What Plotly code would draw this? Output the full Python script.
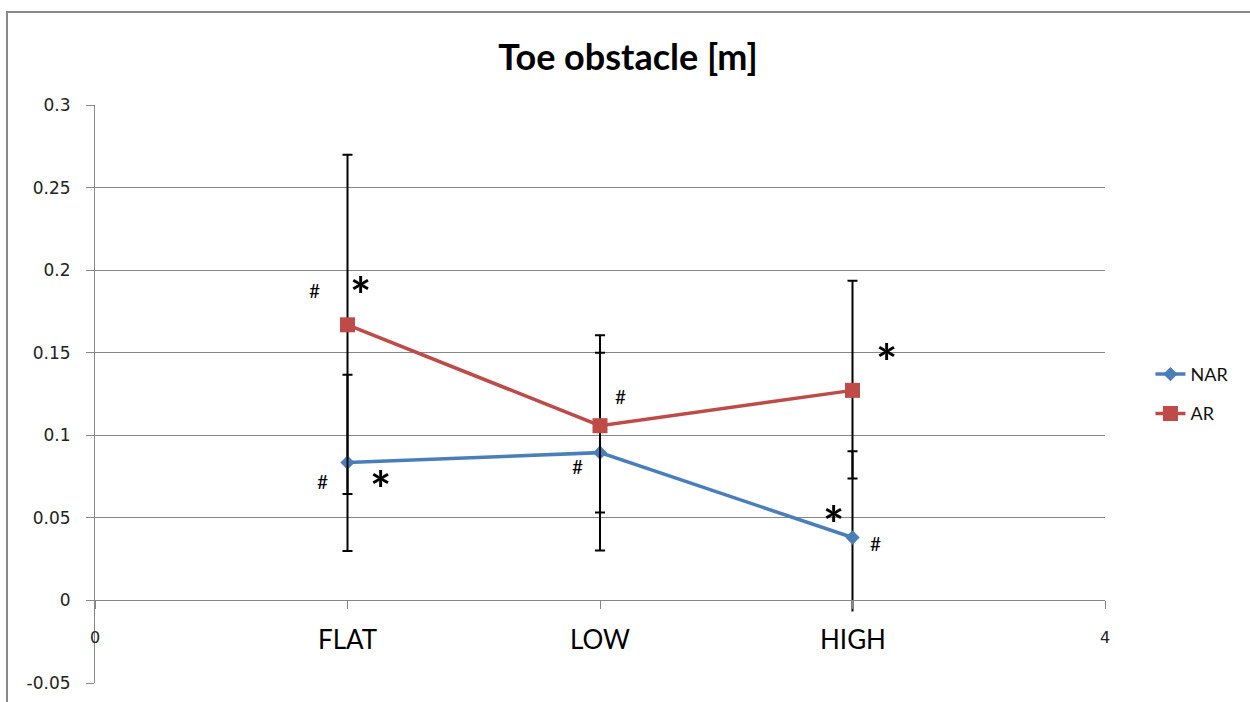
import plotly.graph_objects as go

# Conditions along the x axis (plotted at x = 1, 2, 3 on a 0..4 scale)
CATEGORIES = ["FLAT", "LOW", "HIGH"]
X_POS = [1, 2, 3]

# Mean toe obstacle clearance [m] and the ends of each error bar
NAR_MEAN = [0.0835, 0.0895, 0.0381]
NAR_UPPER = [0.1367, 0.1500, 0.0903]
NAR_LOWER = [0.0299, 0.0302, -0.0067]

AR_MEAN = [0.1669, 0.1058, 0.1272]
AR_UPPER = [0.2698, 0.1605, 0.1936]
AR_LOWER = [0.0644, 0.0532, 0.0738]

# Lower NAR bars drawn without an end cap (index into the lists above)
NAR_UNCAPPED = [2]

# Y axis ticks
Y_TICKS = [-0.05, 0, 0.05, 0.1, 0.15, 0.2, 0.25, 0.3]
Y_TICK_TEXT = ["-0.05", "0", "0.05", "0.1", "0.15", "0.2", "0.25", "0.3"]

# Significance marks: (symbol, x, y) in data units
SIG_MARKS = [
    ("#", 0.871, 0.1875),
    ("*", 1.050, 0.1923),
    ("#", 0.899, 0.0720),
    ("*", 1.129, 0.0750),
    ("#", 2.083, 0.1234),
    ("#", 1.909, 0.0810),
    ("*", 3.133, 0.1518),
    ("*", 2.923, 0.0538),
    ("#", 3.093, 0.0345),
]

NAR_COLOR = "#4A7EBB"
AR_COLOR = "#BE4B48"
GRID = "#878787"


def err(plus, minus, width=5):
    return dict(type="data", symmetric=False, array=plus, arrayminus=minus,
                color="black", thickness=2, width=width)


nar_plus = [u - m for m, u in zip(NAR_MEAN, NAR_UPPER)]
nar_minus = [m - l for m, l in zip(NAR_MEAN, NAR_LOWER)]
ar_plus = [u - m for m, u in zip(AR_MEAN, AR_UPPER)]
ar_minus = [m - l for m, l in zip(AR_MEAN, AR_LOWER)]

nar_minus_capped = [0 if i in NAR_UNCAPPED else v for i, v in enumerate(nar_minus)]

fig = go.Figure()

# Cap-less lower NAR bars
fig.add_trace(go.Scatter(
    x=[X_POS[i] for i in NAR_UNCAPPED],
    y=[NAR_MEAN[i] for i in NAR_UNCAPPED],
    mode="markers", marker=dict(size=1, color="rgba(0,0,0,0)"),
    error_y=err([0] * len(NAR_UNCAPPED), [nar_minus[i] for i in NAR_UNCAPPED], width=0),
    showlegend=False, hoverinfo="skip",
))

fig.add_trace(go.Scatter(
    x=X_POS, y=NAR_MEAN, name="NAR", mode="lines+markers",
    line=dict(color=NAR_COLOR, width=3.5),
    marker=dict(symbol="diamond", size=11, color=NAR_COLOR),
    error_y=err(nar_plus, nar_minus_capped),
    legendgroup="nar",
))
fig.add_trace(go.Scatter(
    x=X_POS, y=AR_MEAN, name="AR", mode="lines+markers",
    line=dict(color=AR_COLOR, width=3.5),
    marker=dict(symbol="square", size=15, color=AR_COLOR),
    error_y=err(ar_plus, ar_minus),
    legendgroup="ar",
))

y_min, y_max = -0.05, 0.3
zero_pos = (0 - y_min) / (y_max - y_min)

fig.update_layout(
    width=1250, height=702,
    margin=dict(l=95, r=145, t=105, b=19, autoexpand=False),
    paper_bgcolor="white", plot_bgcolor="white",
    showlegend=True,
    legend=dict(
        x=1.045, y=0.566, xanchor="left", yanchor="top",
        font=dict(family="Lato", size=18, color="#111"),
        tracegroupgap=13, bgcolor="rgba(0,0,0,0)",
    ),
    title=dict(
        text="<b>Toe obstacle [m]</b>",
        x=628 / 1250, xref="container", xanchor="center",
        y=1 - 57 / 702, yref="container", yanchor="middle",
        font=dict(family="Lato", size=36, color="black"),
    ),
    xaxis=dict(
        range=[0, 4], tickvals=[0, 1, 2, 3, 4],
        ticktext=["0", "", "", "", "4"],
        showgrid=False, zeroline=False,
        showline=True, linecolor=GRID, linewidth=1,
        ticks="outside", ticklen=8, tickcolor=GRID, tickwidth=1,
        anchor="free", position=zero_pos, automargin=False,
        ticklabelstandoff=14,
        tickfont=dict(family="DejaVu Sans", size=16, color="#222"),
    ),
    yaxis=dict(
        range=[y_min, y_max], tickvals=Y_TICKS, ticktext=Y_TICK_TEXT,
        showgrid=True, gridcolor=GRID, gridwidth=1,
        zeroline=False, showline=True, linecolor=GRID, linewidth=1,
        ticks="outside", ticklen=8, tickcolor=GRID, tickwidth=1,
        ticklabelstandoff=12, automargin=False,
        tickfont=dict(family="DejaVu Sans", size=17, color="#222"),
    ),
)

# Outer chart frame
fig.add_shape(type="rect", xref="paper", yref="paper",
              x0=(7 - 95) / 1010, x1=1.3, y0=-0.3, y1=(683 - 12) / 578,
              line=dict(color="#898989", width=2), fillcolor="rgba(0,0,0,0)",
              layer="below")

# Category names under the zero line
for xc, name in zip(X_POS, CATEGORIES):
    fig.add_annotation(x=xc, y=-0.0236, xref="x", yref="y", text=name,
                       showarrow=False, xanchor="center", yanchor="middle",
                       font=dict(family="Lato", size=26, color="black"))

# Significance symbols
for sym, xs, ys in SIG_MARKS:
    if sym == "*":
        font = dict(family="Lato", size=50, color="black")
        shift = -12
    else:
        font = dict(family="Lato", size=19, color="black")
        shift = 0
    fig.add_annotation(x=xs, y=ys, xref="x", yref="y",
                       text=f"<b>{sym}</b>" if sym == "*" else sym,
                       showarrow=False, xanchor="center", yanchor="middle",
                       yshift=shift, font=font)

fig.write_html("out.html")
